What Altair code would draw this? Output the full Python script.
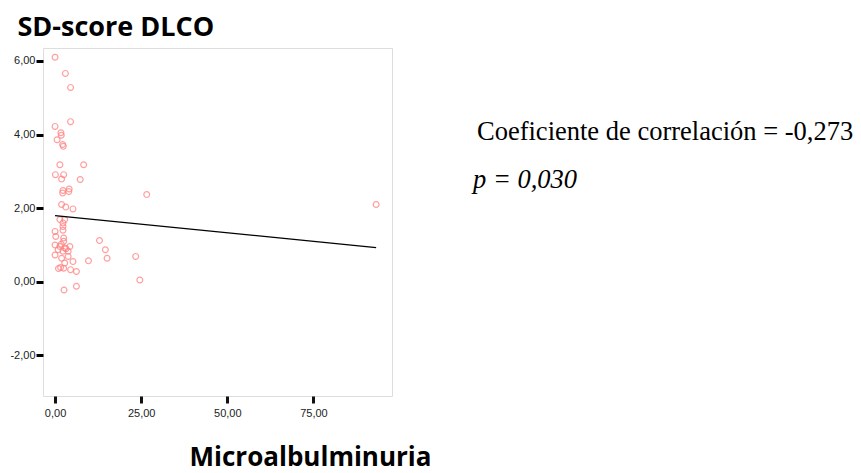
import altair as alt
import pandas as pd

# Microalbuminuria (x) versus SD-score of DLCO (y), one entry per patient
microalb = [
    0.0, 3.0, 4.5, 4.5, 0.0, 1.7, 1.8, 0.6, 2.2, 2.4,
    1.4, 8.3, 0.1, 2.5, 1.9, 7.3, 2.3, 4.1, 2.2, 4.0,
    1.9, 3.1, 5.2, 26.6, 93.2, 1.4, 2.8, 2.3, 2.3, 2.3,
    0.0, 0.2, 2.5, 2.5, 12.9, 0.0, 1.4, 2.8, 4.3, 0.9,
    2.3, 3.8, 14.6, 0.0, 1.9, 3.8, 9.7, 5.2, 2.8, 15.1,
    23.4, 1.6, 2.5, 4.5, 6.2, 1.0, 24.6, 6.2, 2.6, 3.2,
    1.8,
]
sd_dlco = [
    6.10, 5.66, 5.28, 4.35, 4.22, 4.05, 3.98, 3.86, 3.73, 3.68,
    3.18, 3.18, 2.91, 2.91, 2.79, 2.78, 2.48, 2.52, 2.41, 2.45,
    2.10, 2.03, 1.98, 2.37, 2.10, 1.69, 1.69, 1.60, 1.50, 1.40,
    1.37, 1.23, 1.19, 1.10, 1.12, 1.00, 0.96, 0.92, 0.96, 0.87,
    0.83, 0.83, 0.87, 0.73, 0.64, 0.69, 0.57, 0.55, 0.51, 0.64,
    0.69, 0.39, 0.37, 0.33, 0.28, 0.36, 0.05, -0.12, -0.22, 0.90,
    1.02,
]

# Least-squares fit line endpoints
fit_x = [0.0, 93.2]
fit_y = [1.80, 0.93]

x_ticks = [0, 25, 50, 75]
y_ticks = [-2, 0, 2, 4, 6]

annotation_lines = ["Coeficiente de correlación = -0,273", "p = 0,030"]

points_df = pd.DataFrame({"microalb": microalb, "sd_dlco": sd_dlco})
fit_df = pd.DataFrame({"microalb": fit_x, "sd_dlco": fit_y})

comma_fmt = "replace(replace(format(datum.value, '.2f'), '.', ','), '\u2212', '-')"

x_enc = alt.X(
    "microalb:Q",
    scale=alt.Scale(domain=[-3.5, 97.8], nice=False, zero=False),
    axis=alt.Axis(
        values=x_ticks,
        labelExpr=comma_fmt,
        title="Microalbulminuria",
        titleFont="Open Sans",
        titleFontSize=26,
        titleFontWeight="bold",
        titleColor="#000000",
        titleX=267,
        titleY=69,
        titleAlign="center",
        titleBaseline="alphabetic",
        domain=False,
        grid=False,
        ticks=True,
        tickColor="#111111",
        tickWidth=3,
        tickSize=7,
        tickOpacity=1,
        labelPadding=4,
        labelFont="Liberation Sans",
        labelFontSize=11,
        labelColor="#222222",
    ),
)

y_enc = alt.Y(
    "sd_dlco:Q",
    scale=alt.Scale(domain=[-3.1, 6.35], nice=False, zero=False),
    axis=alt.Axis(
        values=y_ticks,
        labelExpr=comma_fmt,
        title="SD-score DLCO",
        titleAngle=0,
        titleFont="Open Sans",
        titleFontSize=27,
        titleFontWeight="bold",
        titleColor="#000000",
        titleX=-26,
        titleY=-13,
        titleAlign="left",
        titleBaseline="alphabetic",
        domain=False,
        grid=False,
        ticks=True,
        tickColor="#000000",
        tickWidth=3,
        tickSize=7,
        tickOpacity=1,
        labelPadding=1,
        labelFont="Liberation Sans",
        labelFontSize=11,
        labelColor="#222222",
    ),
)

points = alt.Chart(points_df).mark_point(
    shape="circle", filled=False, size=34, strokeWidth=1.2,
    color="#ff8080", opacity=0.75,
).encode(x=x_enc, y=y_enc)

fit = alt.Chart(fit_df).mark_line(color="#000000", strokeWidth=1.3).encode(
    x="microalb:Q", y="sd_dlco:Q"
)

text_df = pd.DataFrame({"line": annotation_lines})

coef_text = alt.Chart(text_df).transform_filter(
    alt.datum.line == annotation_lines[0]
).mark_text(
    align="left", baseline="alphabetic", font="Liberation Serif",
    fontSize=26.5, color="#000000",
).encode(text="line:N", x=alt.value(434), y=alt.value(92))

p_text = alt.Chart(text_df).transform_filter(
    alt.datum.line == annotation_lines[1]
).mark_text(
    align="left", baseline="alphabetic", font="Liberation Serif",
    fontSize=26.5, fontStyle="italic", color="#000000",
).encode(text="line:N", x=alt.value(430), y=alt.value(140))

chart = alt.layer(points, fit, coef_text, p_text).properties(
    width=349,
    height=348,
    padding={"left": 43, "top": 48, "right": 469, "bottom": 77},
    autosize=alt.AutoSizeParams(type="none"),
).configure_view(
    stroke="#808080", strokeWidth=1.5
).configure(background="#ffffff")

chart.save("out.html", embed_options={"renderer": "svg", "actions": False})
